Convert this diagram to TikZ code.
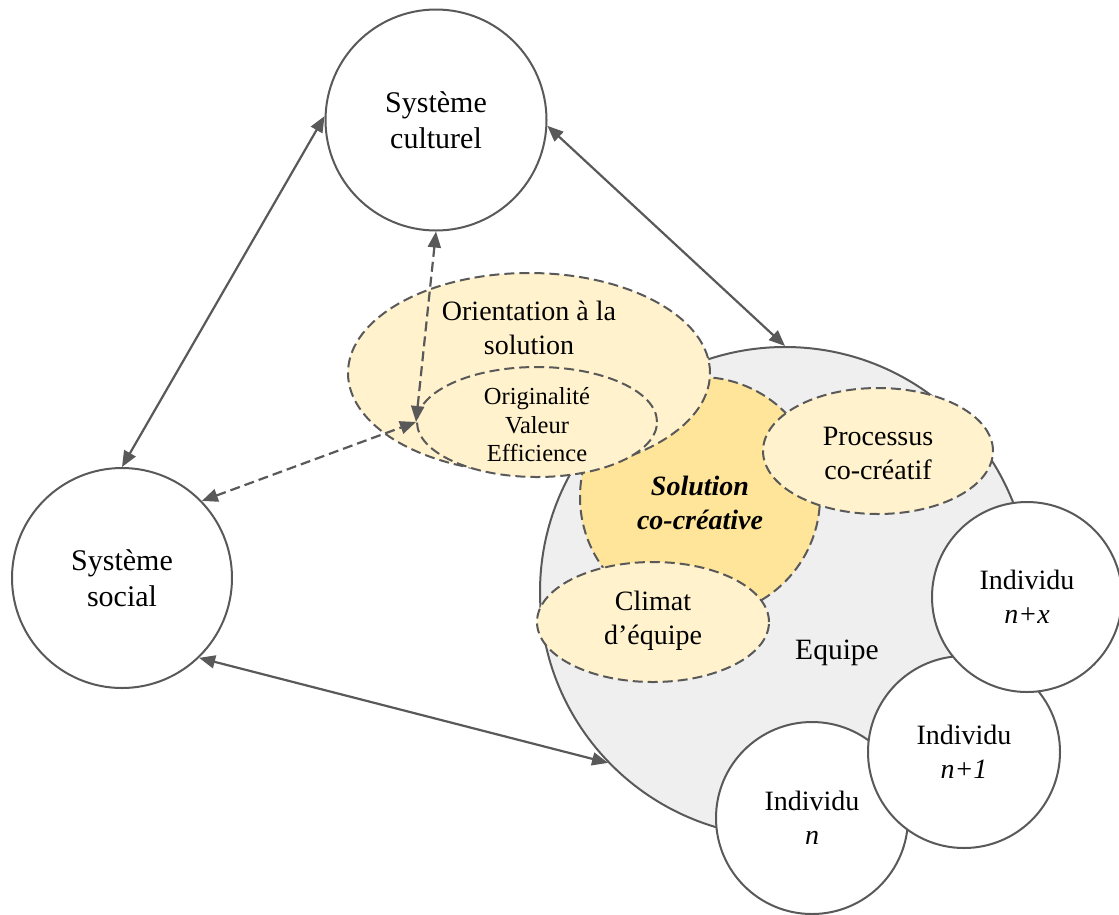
\documentclass[tikz,border=0pt]{standalone}
\usepackage{fontspec}
\setmainfont{Liberation Serif}
\usetikzlibrary{arrows.meta,shapes.geometric}
\definecolor{ln}{HTML}{595959}
\definecolor{ylight}{HTML}{FFF2CC}
\definecolor{ydark}{HTML}{FFE599}
\definecolor{greyfill}{HTML}{EFEFEF}
\tikzset{
  bigtxt/.style={font=\fontsize{28}{34}\selectfont, align=center, text=black},
  systxt/.style={font=\fontsize{30}{36}\selectfont, align=center, text=black},
  smalltxt/.style={font=\fontsize{24.5}{28.5}\selectfont, align=center, text=black},
  syscircle/.style={circle, draw=ln, line width=2pt, fill=white, inner sep=0pt, bigtxt},
  dashedshape/.style={draw=ln, line width=2pt, dash pattern=on 10pt off 5pt, inner sep=0pt},
  yell/.style={ellipse, dashedshape, fill=ylight},
  conn/.style={draw=ln, line width=2.2pt, {Triangle[length=16pt,width=13pt]}-{Triangle[length=16pt,width=13pt]}},
  dconn/.style={conn, dash pattern=on 10pt off 5pt},
}
\begin{document}
\begin{tikzpicture}[x=1pt,y=-1pt]
\useasboundingbox (0,0) rectangle (1119,914);
% team circle and zones
\node[circle, draw=ln, line width=2pt, fill=greyfill, minimum size=490pt, inner sep=0pt] (equipe) at (785,592) {};
\node[circle, dashedshape, fill=ydark, minimum size=240pt] (solution) at (700,497) {};
\node[yell, minimum width=362pt, minimum height=200pt] (orientation) at (529,373) {};
\node[yell, minimum width=240pt, minimum height=110pt] (criteres) at (537,422) {};
\node[yell, minimum width=230pt, minimum height=126pt] (processus) at (878,451) {};
\node[yell, minimum width=232pt, minimum height=120pt] (climat) at (653,622) {};
% individuals
\node[syscircle, minimum size=192pt] (ind0) at (812,818) {Individu\\\textit{n}};
\node[syscircle, minimum size=192pt] (ind1) at (964,752) {Individu\\\textit{n+1}};
\node[syscircle, minimum size=190pt] (indx) at (1027,597) {Individu\\\textit{n+x}};
% systems
\node[syscircle, systxt, minimum size=221pt] (culturel) at (436,120) {Système\\culturel};
\node[syscircle, systxt, minimum size=220pt] (social) at (122,578) {Système\\social};
% texts
\node[bigtxt] (torient) at (529,328) {Orientation à la\\solution};
\node[smalltxt] (tcrit) at (537,425) {Originalité\\Valeur\\Efficience};
\node[bigtxt, font=\fontsize{28}{34}\selectfont\bfseries\itshape] (tsol) at (700,503) {Solution\\co-créative};
\node[bigtxt] (tproc) at (878,453) {Processus\\co-créatif};
\node[bigtxt] (tclim) at (653,621) {Climat\\d’équipe};
\node[bigtxt, font=\fontsize{29.5}{34}\selectfont] (tequipe) at (837,653) {Equipe};
% connectors
\draw[conn] (social.90) -- (culturel.178);
\draw[conn] (culturel.-3) -- (equipe.90.5);
\draw[conn] (social.-46) -- (equipe.224.7);
\draw[dconn] (culturel.south) -- (criteres.west);
\draw[dconn] (social.44) -- (criteres.west);
\end{tikzpicture}
\end{document}
